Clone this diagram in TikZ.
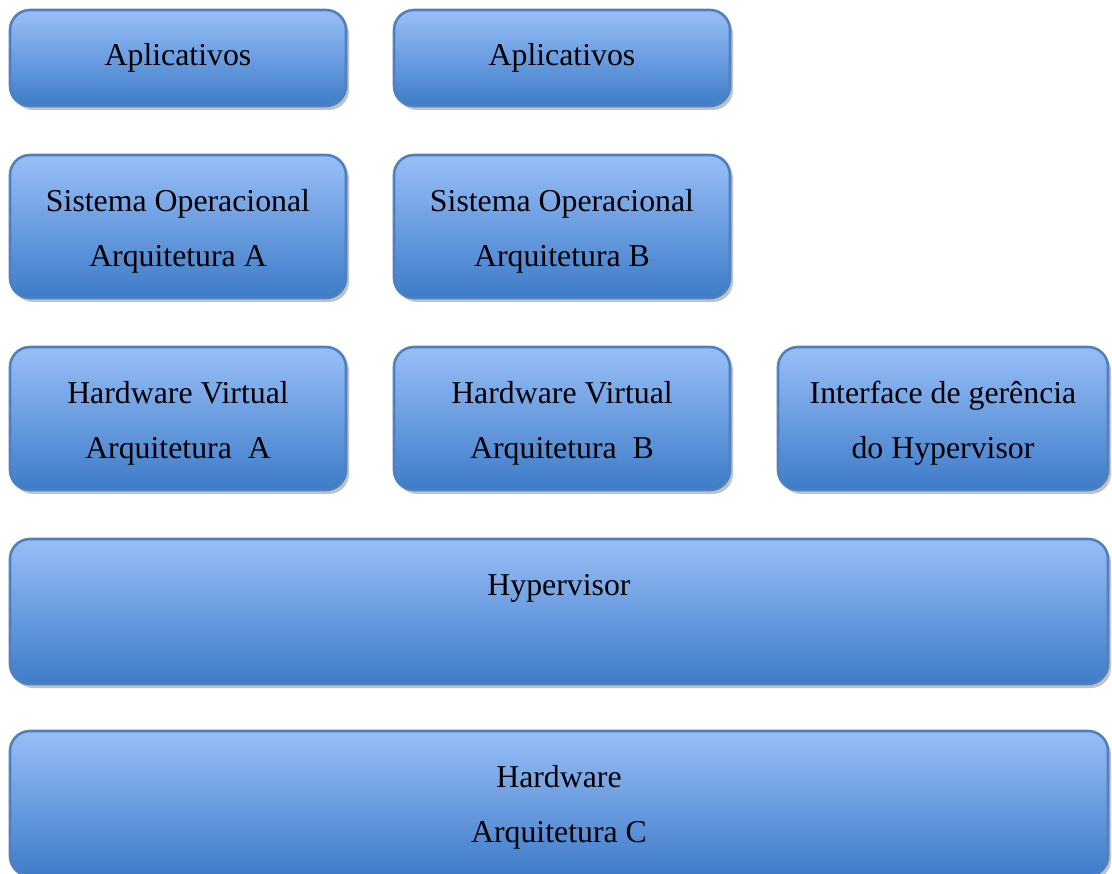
\documentclass[tikz,border=0pt]{standalone}
\usepackage{fontspec}
\setmainfont{Liberation Serif}
\usetikzlibrary{shadows}
\definecolor{topblue}{RGB}{152,190,248}
\definecolor{botblue}{RGB}{62,124,200}
\definecolor{edgeblue}{RGB}{79,129,189}
\tikzset{
  layer/.style={rectangle, rounded corners=20pt, draw=edgeblue, line width=2.6pt,
    top color=topblue, bottom color=botblue,
    drop shadow={shadow xshift=3pt, shadow yshift=-4pt, opacity=0.35, fill=black!70}},
  txt/.style={align=center, inner sep=0pt, font=\fontsize{31.8}{55}\selectfont},
}
\begin{document}
\begin{tikzpicture}[x=1pt,y=-1pt]
\useasboundingbox (0,0) rectangle (1112,874);
\node[layer, minimum width=336pt, minimum height=96pt] (app1) at (178,58) {};
\node[layer, minimum width=336pt, minimum height=96pt] (app2) at (562,58) {};
\node[layer, minimum width=336pt, minimum height=143pt] (so1) at (178,226.5) {};
\node[layer, minimum width=336pt, minimum height=143pt] (so2) at (562,226.5) {};
\node[layer, minimum width=336pt, minimum height=143pt] (hv1) at (178,418.5) {};
\node[layer, minimum width=336pt, minimum height=143pt] (hv2) at (562,418.5) {};
\node[layer, minimum width=330pt, minimum height=143pt] (iface) at (943,418.5) {};
\node[layer, minimum width=1098pt, minimum height=145pt] (hyp) at (559,611.5) {};
\node[layer, minimum width=1098pt, minimum height=145pt] (hw) at (559,803.5) {};
\node[txt] (app1t) at (app1.center) {Aplicativos};
\node[txt] (app2t) at (app2.center) {Aplicativos};
\node[txt] (so1t) at ([yshift=-5pt]so1.center) {Sistema Operacional\\Arquitetura A};
\node[txt] (so2t) at ([yshift=-5pt]so2.center) {Sistema Operacional\\Arquitetura B};
\node[txt] (hv1t) at ([yshift=-5pt]hv1.center) {Hardware Virtual\\Arquitetura~~A};
\node[txt] (hv2t) at ([yshift=-5pt]hv2.center) {Hardware Virtual\\Arquitetura~~B};
\node[txt] (ifacet) at ([yshift=-5pt]iface.center) {Interface de gerência\\do Hypervisor};
\node[txt] (hypt) at ([yshift=23pt]hyp.center) {Hypervisor};
\node[txt] (hwt) at ([yshift=-4pt]hw.center) {Hardware\\Arquitetura C};
\end{tikzpicture}
\end{document}
